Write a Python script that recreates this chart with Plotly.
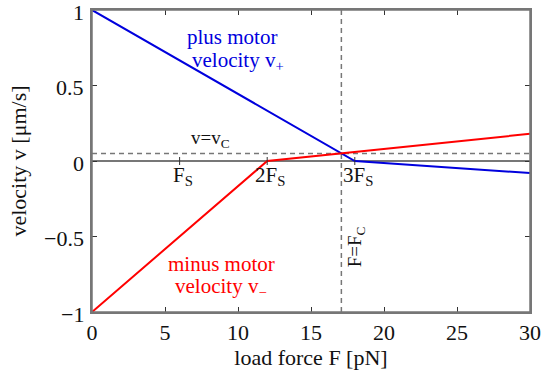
import plotly.graph_objects as go

# Piecewise-linear force-velocity relations
force_plus = [0, 18, 30]
vel_plus = [1.0, 0.0, -0.08]
force_minus = [0, 12, 30]
vel_minus = [-1.0, 0.0, 0.18]

# Crossing point of the two curves
F_C = 17.08
v_C = 0.05

# Stall-force marks on the zero line
stall_forces = [6, 12, 18]
stall_labels = ["F<sub>S</sub>", "2F<sub>S</sub>", "3F<sub>S</sub>"]

x_ticks = [0, 5, 10, 15, 20, 25, 30]
y_ticks = [-1, -0.5, 0, 0.5, 1]
y_ticklabels = ["−1", "−0.5", "0", "0.5", "1"]

FONT = "Liberation Serif"
GRAY = "#777777"
INK = "#111111"
BLUE = "#0000dd"
RED = "#ff0000"

fig = go.Figure()

# zero line
fig.add_trace(go.Scatter(x=[0, 30], y=[0, 0], mode="lines",
                         line=dict(color=GRAY, width=2), hoverinfo="skip"))
# dashed guides
fig.add_trace(go.Scatter(x=[0, 30], y=[v_C, v_C], mode="lines",
                         line=dict(color=GRAY, width=1.5, dash="5px,4px"), hoverinfo="skip"))
fig.add_trace(go.Scatter(x=[F_C, F_C], y=[-1, 1], mode="lines",
                         line=dict(color=GRAY, width=1.5, dash="5px,4px"), hoverinfo="skip"))

fig.add_trace(go.Scatter(x=force_plus, y=vel_plus, mode="lines",
                         line=dict(color=BLUE, width=2)))
fig.add_trace(go.Scatter(x=force_minus, y=vel_minus, mode="lines",
                         line=dict(color=RED, width=2)))

# plot frame
shapes = [dict(type="rect", xref="paper", yref="paper", x0=0, x1=1, y0=0, y1=1,
               line=dict(color=GRAY, width=1.5), layer="above")]
for f in stall_forces:
    shapes.append(dict(type="line", xref="x", yref="y", x0=f, x1=f,
                       ysizemode="pixel", yanchor=0, y0=-4, y1=4,
                       line=dict(color="#333333", width=1)))

annotations = []
for f, lab in zip(stall_forces, stall_labels):
    annotations.append(dict(x=f, y=0, xref="x", yref="y", text=lab,
                            showarrow=False, yanchor="top", yshift=0, xshift=3,
                            font=dict(family=FONT, size=21, color=INK)))

# y tick labels, set slightly below their ticks
for v, t in zip(y_ticks, y_ticklabels):
    annotations.append(dict(x=0, y=v, xref="paper", yref="y", text=t,
                            showarrow=False, xanchor="right", xshift=-6, yshift=-2,
                            font=dict(family=FONT, size=22, color=INK)))


def label(x, y, text, color, size=21, **kw):
    return dict(x=x, y=y, xref="x", yref="y", text=text, showarrow=False,
                font=dict(family=FONT, size=size, color=color), **kw)


annotations += [
    label(8.1, 0.145, "v=v<sub>C</sub>", INK, size=19),
    label(18.1, -0.57, "F=F<sub>C</sub>", INK, size=19, textangle=-90),
    label(9.6, 0.82, "plus motor", BLUE),
    label(10.0, 0.665, "velocity v<sub>+</sub>", BLUE),
    label(8.84, -0.68, "minus motor", RED),
    label(8.84, -0.835, "velocity v<sub>−</sub>", RED),
]

axis_common = dict(showline=True, linecolor=GRAY, linewidth=1.5, mirror="allticks",
                   ticks="inside", ticklen=5, tickcolor="#333333", tickwidth=1,
                   showgrid=False, zeroline=False, automargin=False)

fig.update_layout(
    width=545, height=372,
    margin=dict(l=92, r=15, t=10, b=60),
    plot_bgcolor="white", paper_bgcolor="white",
    showlegend=False,
    shapes=shapes, annotations=annotations,
    xaxis=dict(range=[0, 30], tickvals=x_ticks, ticklabeloverflow="allow",
               tickfont=dict(family=FONT, size=22, color=INK),
               title=dict(text="load force F [pN]", standoff=2,
                          font=dict(family=FONT, size=22, color=INK)),
               **axis_common),
    yaxis=dict(range=[-1, 1], tickvals=y_ticks, showticklabels=False,
               title=dict(text="velocity v [μm/s]", standoff=58,
                          font=dict(family=FONT, size=22, color=INK)),
               **axis_common),
)

fig.write_html("out.html")
